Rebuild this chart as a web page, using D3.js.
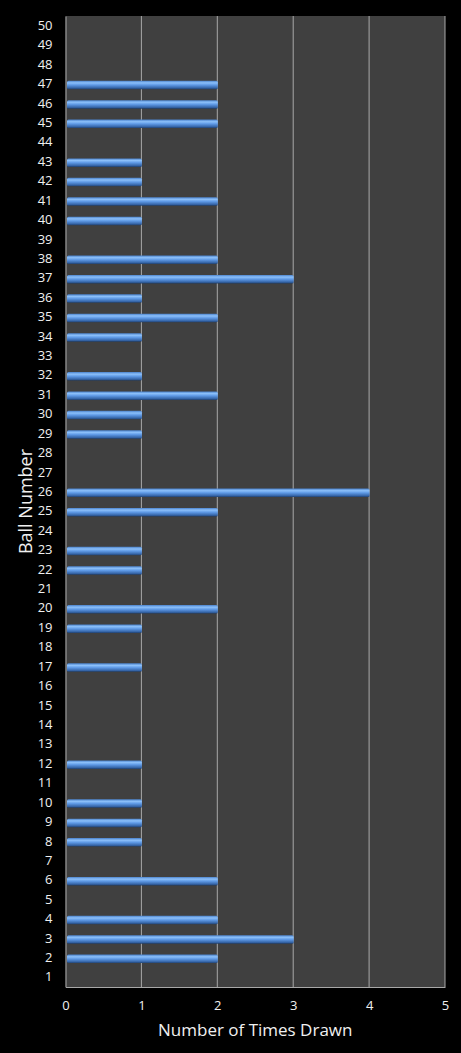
<!DOCTYPE html>
<html lang="en">
<head>
    <meta charset="UTF-8">
    <title>ball frequency</title>
    <script src="https://d3js.org/d3.v7.min.js"></script>
    <style>
        body {
            margin: 0;
            background: #000;
        }
        svg {
            display: block;
        }
        .tick text {
            fill: #f0f0f0;
            font-family: "Open Sans", sans-serif;
            font-size: 13px;
        }
        .axis-title {
            fill: #f0f0f0;
            font-family: "Open Sans", sans-serif;
        }
    </style>
</head>
<body>
    <div id="chart"></div>
    <script>
        const balls = d3.range(1, 51)
        const timesDrawn = [
            0, 2, 3, 2, 0, 2, 0, 1, 1, 1,
            0, 1, 0, 0, 0, 0, 1, 0, 1, 2,
            0, 1, 1, 0, 2, 4, 0, 0, 1, 1,
            2, 1, 0, 1, 2, 1, 3, 2, 0, 1,
            2, 1, 1, 0, 2, 2, 2, 0, 0, 0
        ]
        const xTicks = [0, 1, 2, 3, 4, 5]

        const WIDTH = 461
        const HEIGHT = 1053
        const MARGIN = { top: 16, right: 16, bottom: 66, left: 65.5 }

        const svg = d3.select('#chart')
            .append('svg')
            .attr('width', WIDTH)
            .attr('height', HEIGHT)

        const x = d3.scaleLinear()
            .domain([0, 5])
            .range([MARGIN.left, WIDTH - MARGIN.right])

        // ball 50 at the top
        const y = d3.scaleBand()
            .domain(balls.slice().reverse())
            .range([MARGIN.top, HEIGHT - MARGIN.bottom])

        const defs = svg.append('defs')
        const grad = defs.append('linearGradient')
            .attr('id', 'bar-grad')
            .attr('x1', 0).attr('y1', 0).attr('x2', 0).attr('y2', 1)
        grad.append('stop').attr('offset', '0%').attr('stop-color', '#4a82cc')
        grad.append('stop').attr('offset', '25%').attr('stop-color', '#8cc0fa')
        grad.append('stop').attr('offset', '50%').attr('stop-color', '#5f9ae6')
        grad.append('stop').attr('offset', '85%').attr('stop-color', '#3565a8')
        grad.append('stop').attr('offset', '100%').attr('stop-color', '#1f3e6a')

        // plot area
        svg.append('rect')
            .attr('x', x(0))
            .attr('y', MARGIN.top)
            .attr('width', x(5) - x(0))
            .attr('height', HEIGHT - MARGIN.bottom - MARGIN.top)
            .attr('fill', '#404040')

        // vertical grid
        svg.append('g')
            .selectAll('line')
            .data(xTicks.slice(1))
            .enter().append('line')
            .attr('x1', d => x(d)).attr('x2', d => x(d))
            .attr('y1', MARGIN.top).attr('y2', HEIGHT - MARGIN.bottom)
            .attr('stroke', '#a8a8a8')
            .attr('stroke-width', 1)

        // bars
        const barH = 8.5
        svg.append('g')
            .selectAll('rect')
            .data(balls.map((b, i) => ({ ball: b, value: timesDrawn[i] })).filter(d => d.value > 0))
            .enter().append('rect')
            .attr('x', x(0) + 1.5)
            .attr('y', d => y(d.ball) + y.bandwidth() / 2 - barH / 2 + 1)
            .attr('width', d => x(d.value) - x(0) - 1)
            .attr('height', barH)
            .attr('rx', 1.5)
            .attr('fill', 'url(#bar-grad)')

        // axes
        const xAxis = svg.append('g')
            .attr('transform', `translate(0,${HEIGHT - MARGIN.bottom})`)
            .call(d3.axisBottom(x).tickValues(xTicks).tickFormat(d3.format('d')).tickSize(0).tickPadding(14))
        xAxis.select('.domain').attr('stroke', '#a8a8a8')

        const yAxis = svg.append('g')
            .attr('transform', `translate(${MARGIN.left},0)`)
            .call(d3.axisLeft(y).tickSize(0).tickPadding(13))
        yAxis.select('.domain').attr('stroke', '#a8a8a8')

        // titles
        svg.append('text')
            .attr('class', 'axis-title')
            .attr('x', (x(0) + x(5)) / 2)
            .attr('y', 1036)
            .attr('text-anchor', 'middle')
            .attr('font-size', 17)
            .text('Number of Times Drawn')

        svg.append('text')
            .attr('class', 'axis-title')
            .attr('transform', `translate(32,${(MARGIN.top + HEIGHT - MARGIN.bottom) / 2}) rotate(-90)`)
            .attr('text-anchor', 'middle')
            .attr('font-size', 18)
            .text('Ball Number')
    </script>
</body>
</html>
